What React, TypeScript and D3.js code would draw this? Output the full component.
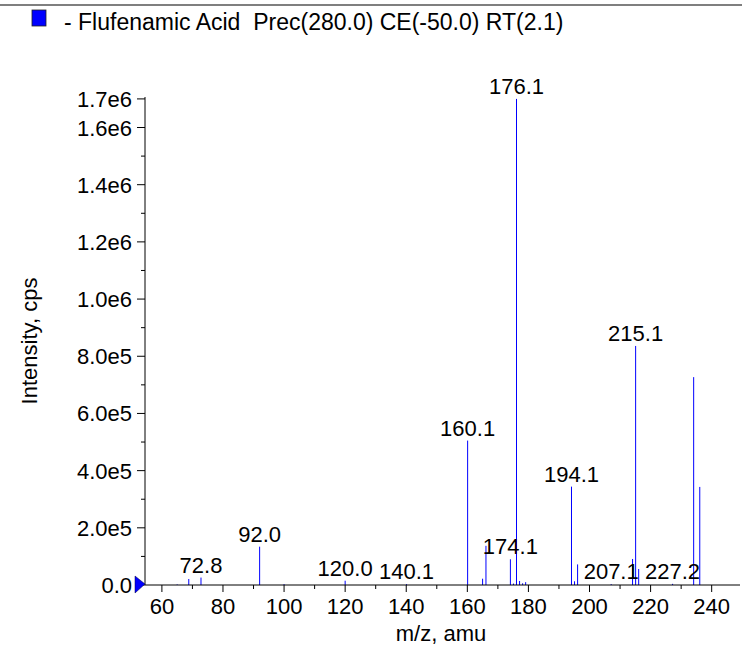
import React from "react";
import * as d3 from "d3";

// ---- data ----
const peakMz: number[] = [65.0, 68.8, 72.8, 92.0, 100.0, 120.0, 140.1, 160.1, 165.0, 166.1, 174.1, 175.1, 176.1, 177.1, 178.1, 179.1, 194.1, 195.1, 196.1, 207.1, 214.1, 215.1, 216.1, 227.2, 234.1, 236.1];
const peakIntensity: number[] = [2000, 21000, 26000, 134000, 3000, 15000, 3000, 505000, 22000, 137000, 90000, 5000, 1700000, 14000, 6000, 10000, 344000, 13000, 72000, 3000, 91000, 836000, 56000, 4000, 727000, 343000];
const labeledPeaks: number[] = [72.8, 92.0, 120.0, 140.1, 160.1, 174.1, 176.1, 194.1, 207.1, 215.1, 227.2];
const xMajorTicks: number[] = [60, 80, 100, 120, 140, 160, 180, 200, 220, 240];
const xMinorTicks: number[] = [70, 90, 110, 130, 150, 170, 190, 210, 230];
const yMajorTicks: number[] = [0, 200000, 400000, 600000, 800000, 1000000, 1200000, 1400000, 1600000, 1700000];
const yMinorTicks: number[] = [100000, 300000, 500000, 700000, 900000, 1100000, 1300000, 1500000];
const legendText = "- Flufenamic Acid  Prec(280.0) CE(-50.0) RT(2.1)";
const xTitle = "m/z, amu";
const yTitle = "Intensity, cps";

const W = 742;
const H = 647;
const FONT = "'Liberation Sans', Arial, Helvetica, sans-serif";

function fmtY(v: number): string {
  if (v === 0) return "0.0";
  return d3.format(".1e")(v).replace("e+", "e");
}

export default function App() {
  const x = d3.scaleLinear().domain([54.47, 249.27]).range([145, 740]);
  const y = d3.scaleLinear().domain([0, 1706700]).range([585, 97]);

  const peaks = peakMz.map((m, i) => ({ m, v: peakIntensity[i] }));

  const blue = "#0000ff";

  return (
    <svg width={W} height={H} style={{ position: "absolute", left: 0, top: 0, background: "#fff" }} fontFamily={FONT}>
      <rect x={0} y={0} width={W} height={H} fill="#fff" />
      {/* top border */}
      <line x1={0} x2={W} y1={5} y2={5} stroke="#555" strokeWidth={1.5} />
      {/* legend */}
      <rect x={32} y={10} width={14} height={16} fill={blue} stroke="#222" strokeWidth={0.8} />
      <text x={64} y={30} fontSize={23} fill="#000" style={{ whiteSpace: "pre" }}>{legendText}</text>

      {/* peaks */}
      {peaks.map((p, i) => (
        <line key={i} x1={x(p.m)} x2={x(p.m)} y1={y(0)} y2={y(p.v)} stroke={blue} strokeWidth={1} />
      ))}

      {/* peak labels */}
      {peaks.filter((p) => labeledPeaks.includes(p.m)).map((p, i) => (
        <text key={i} x={x(p.m)} y={y(p.v) - 5} fontSize={22} textAnchor="middle" fill="#000">
          {p.m.toFixed(1)}
        </text>
      ))}

      {/* axes */}
      <line x1={145} x2={740} y1={y(0)} y2={y(0)} stroke="#000" strokeWidth={1} />
      <line x1={145} x2={145} y1={y(0)} y2={y(1706700)} stroke="#000" strokeWidth={1} />

      {xMajorTicks.map((t) => (
        <g key={"xm" + t}>
          <line x1={x(t)} x2={x(t)} y1={y(0)} y2={y(0) + 7} stroke="#000" />
          <text x={x(t)} y={613.5} fontSize={22} textAnchor="middle" fill="#000">{t}</text>
        </g>
      ))}
      {xMinorTicks.map((t) => (
        <line key={"xn" + t} x1={x(t)} x2={x(t)} y1={y(0)} y2={y(0) + 4} stroke="#000" />
      ))}

      {yMajorTicks.map((t) => (
        <g key={"ym" + t}>
          <line x1={145 - 8} x2={145} y1={y(t)} y2={y(t)} stroke="#000" />
          <text x={132} y={y(t) + 8} fontSize={22} textAnchor="end" fill="#000">{fmtY(t)}</text>
        </g>
      ))}
      {yMinorTicks.map((t) => (
        <line key={"yn" + t} x1={145 - 4} x2={145} y1={y(t)} y2={y(t)} stroke="#000" />
      ))}

      {/* origin marker */}
      <path d={`M135,${y(0) - 9} L145,${y(0) - 1} L135,${y(0) + 8} Z`} fill={blue} stroke="#000044" strokeWidth={0.5} />

      {/* titles */}
      <text x={441} y={641} fontSize={22} textAnchor="middle" fill="#000">{xTitle}</text>
      <text transform="translate(37,341) rotate(-90)" fontSize={22} textAnchor="middle" fill="#000">{yTitle}</text>
    </svg>
  );
}
